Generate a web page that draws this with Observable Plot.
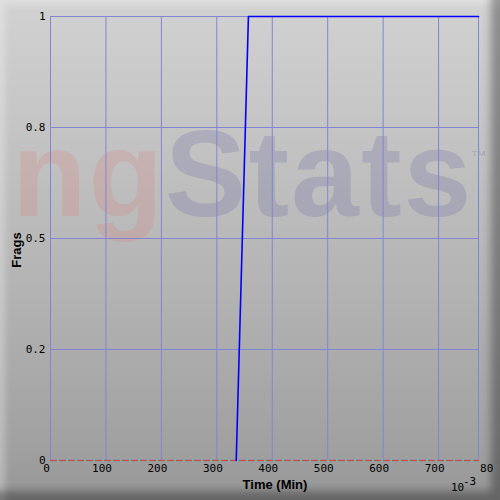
<!DOCTYPE html>
<html>
<head>
<meta charset="utf-8">
<script src="https://cdn.jsdelivr.net/npm/d3@7"></script>
<script src="https://cdn.jsdelivr.net/npm/@observablehq/plot@0.6"></script>
<style>
  html, body { margin: 0; padding: 0; }
  #frame {
    position: relative; width: 500px; height: 500px; overflow: hidden;
    background: linear-gradient(to bottom, #d2d2d2 0%, #c2c2c2 30%, #b2b2b2 60%, #a0a0a0 90%, #969696 100%);
  }
  #frame > * { position: absolute; left: 0; top: 0; }
  #bevel {
    width: 500px; height: 500px; pointer-events: none;
    box-shadow: inset -9px -9px 8px rgba(0,0,0,0.33), inset 5px 5px 7px rgba(255,255,255,0.3);
  }
</style>
</head>
<body>
<div id="frame">
  <svg id="wm" width="500" height="500">
    <text x="12" y="216" font-family="Liberation Sans, Arial, sans-serif" font-weight="bold" font-size="122" letter-spacing="2"><tspan fill="rgba(225,120,120,0.22)">ng</tspan><tspan fill="rgba(100,100,165,0.24)">Stats</tspan></text>
    <text x="471" y="162" font-family="Liberation Sans, Arial, sans-serif" font-weight="bold" font-size="16" fill="rgba(100,100,165,0.22)">™</text>
  </svg>
  <div id="chart"></div>
  <svg id="labels" width="500" height="500">
    <text x="275" y="489" text-anchor="middle" font-family="Liberation Sans, Arial, sans-serif" font-weight="bold" font-size="13" fill="#000">Time (Min)</text>
    <text transform="translate(21,250) rotate(-90)" text-anchor="middle" font-family="Liberation Sans, Arial, sans-serif" font-weight="bold" font-size="13" fill="#000">Frags</text>
    <text x="451" y="491" font-family="DejaVu Sans Mono, monospace" font-size="11" fill="#000">10</text>
    <text x="463" y="485" font-family="DejaVu Sans Mono, monospace" font-size="11" fill="#000">-3</text>
  </svg>
  <div id="bevel"></div>
</div>
<script>
// ---- data ----
const xMax = 772;                       // visible end of the time axis (x10^-3 min)
const xTicks = [0, 100, 200, 300, 400, 500, 600, 700, 800];
const xTickLabels = ["0", "100", "200", "300", "400", "500", "600", "700", "800"];
const yTicks = [0, 0.25, 0.5, 0.75, 1];
const yTickLabels = ["0", "0.2", "0.5", "0.8", "1"];

// main player (blue)
const blueTimes = [335, 357, 772];
const blueFrags = [0, 1, 1];
// other players, flat at zero (red dashed / cyan)
const redTimes = [0, 772];
const redFrags = [0, 0];
const cyanTimes = [0, 772];
const cyanFrags = [0, 0];

const blue = blueTimes.map((t, i) => ({t, f: blueFrags[i]}));
const red = redTimes.map((t, i) => ({t, f: redFrags[i]}));
const cyan = cyanTimes.map((t, i) => ({t, f: cyanFrags[i]}));

const gridColor = "#8484d4";
const tickFont = "DejaVu Sans Mono, monospace";

const chart = Plot.plot({
  width: 500,
  height: 500,
  marginLeft: 50,
  marginRight: 22,
  marginTop: 16,
  marginBottom: 40,
  style: {background: "transparent", overflow: "visible"},
  x: {domain: [0, xMax]},
  y: {domain: [0, 1]},
  marks: [
    Plot.ruleX([...xTicks.filter(t => t <= xMax), xMax], {stroke: gridColor, strokeWidth: 1}),
    Plot.ruleY(yTicks.filter(v => v > 0), {stroke: gridColor, strokeWidth: 1}),
    Plot.line(cyan, {x: "t", y: "f", stroke: "#30d8cc", strokeWidth: 1.6}),
    Plot.line(red, {x: "t", y: "f", stroke: "#d8484c", strokeWidth: 1.6, strokeDasharray: "6,3"}),
    Plot.line(blue, {x: "t", y: "f", stroke: "#0000ff", strokeWidth: 1.6}),
    Plot.axisX(xTicks, {
      tickSize: 0, tickPadding: 4, dx: -4,
      tickFormat: (d) => xTickLabels[xTicks.indexOf(d)],
      fontFamily: tickFont, fontSize: 11, fill: "#000", label: null
    }),
    Plot.axisY(yTicks, {
      tickSize: 0, tickPadding: 5,
      tickFormat: (d) => yTickLabels[yTicks.indexOf(d)],
      fontFamily: tickFont, fontSize: 11, fill: "#000", label: null
    })
  ]
});
chart.style.clipPath = "inset(0 7px 0 0)";
document.getElementById("chart").appendChild(chart);
</script>
</body>
</html>
